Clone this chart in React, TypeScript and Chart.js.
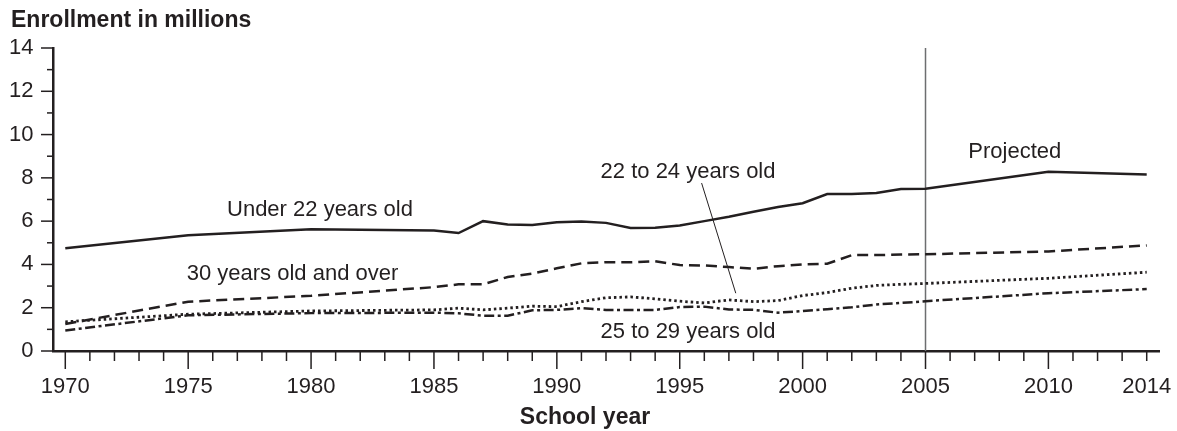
import React, { useEffect, useRef } from "react";
import { Chart, registerables } from "chart.js";

Chart.register(...registerables);

// ---- Data (millions) ----
const years = [
  1970, 1975, 1980, 1985, 1986, 1987, 1988, 1989, 1990, 1991, 1992, 1993, 1994,
  1995, 1996, 1997, 1998, 1999, 2000, 2001, 2002, 2003, 2004, 2005, 2010, 2014,
];
const under22 = [
  4.75, 5.35, 5.62, 5.57, 5.45, 6.0, 5.85, 5.82, 5.95, 5.98, 5.92, 5.68, 5.7,
  5.8, 6.0, 6.2, 6.43, 6.65, 6.83, 7.25, 7.25, 7.3, 7.48, 7.5, 8.28, 8.16,
];
const age22to24 = [
  1.35, 1.7, 1.85, 1.9, 1.98, 1.9, 1.98, 2.07, 2.05, 2.28, 2.46, 2.5, 2.41,
  2.3, 2.22, 2.36, 2.28, 2.33, 2.56, 2.7, 2.9, 3.03, 3.08, 3.12, 3.36, 3.64,
];
const age25to29 = [
  0.95, 1.65, 1.75, 1.77, 1.74, 1.63, 1.63, 1.88, 1.9, 1.98, 1.9, 1.9, 1.9,
  2.03, 2.05, 1.92, 1.9, 1.77, 1.85, 1.93, 2.02, 2.15, 2.22, 2.3, 2.67, 2.86,
];
const over30 = [
  1.25, 2.28, 2.55, 2.95, 3.08, 3.08, 3.42, 3.58, 3.82, 4.05, 4.1, 4.1, 4.15,
  3.97, 3.95, 3.88, 3.8, 3.92, 4.0, 4.03, 4.43, 4.43, 4.46, 4.47, 4.6, 4.88,
];

const xTickLabels = [1970, 1975, 1980, 1985, 1990, 1995, 2000, 2005, 2010, 2014];
const xMajorTicks = [1970, 1975, 1980, 1985, 1990, 1995, 2000, 2005, 2010];
const yTickLabels = [0, 2, 4, 6, 8, 10, 12, 14];
const projectionStart = 2005;

const titleText = "Enrollment in millions";
const xTitleText = "School year";

// annotation labels, anchored in data units (left edge, vertical middle)
const annotations = [
  { text: "Under 22 years old", x: 1976.58, y: 6.53 },
  { text: "30 years old and over", x: 1974.94, y: 3.56 },
  { text: "22 to 24 years old", x: 1991.78, y: 8.29 },
  { text: "25 to 29 years old", x: 1991.78, y: 0.88 },
  { text: "Projected", x: 2006.74, y: 9.21 },
];
// leader line for "22 to 24 years old"
const leader = { x1: 1995.89, y1: 7.76, x2: 1997.28, y2: 2.67 };

const FONT = '"Liberation Sans", Arial, Helvetica, sans-serif';
const INK = "#231f20";

const toPoints = (vals: number[]) => vals.map((v, i) => ({ x: years[i], y: v }));

const decorPlugin = {
  id: "decor",
  beforeDatasetsDraw(chart: any) {
    const { ctx, scales, chartArea } = chart;
    const x = scales.x;
    ctx.save();
    const px = x.getPixelForValue(projectionStart);
    ctx.strokeStyle = "#6d6e70";
    ctx.lineWidth = 1.5;
    ctx.beginPath();
    ctx.moveTo(px, chartArea.top);
    ctx.lineTo(px, chartArea.bottom);
    ctx.stroke();
    ctx.restore();
  },
  afterDraw(chart: any) {
    const { ctx, scales, chartArea } = chart;
    const x = scales.x;
    const y = scales.y;
    ctx.save();
    ctx.strokeStyle = INK;
    ctx.lineWidth = 1.5;
    // x ticks (every year)
    for (let yr = xTickLabels[0]; yr <= xTickLabels[xTickLabels.length - 1]; yr++) {
      const px = x.getPixelForValue(yr);
      const len = xMajorTicks.includes(yr) ? 18 : 10;
      ctx.beginPath();
      ctx.moveTo(px, chartArea.bottom);
      ctx.lineTo(px, chartArea.bottom + len);
      ctx.stroke();
    }
    // y ticks (every unit)
    for (let v = 0; v <= 14; v++) {
      const py = y.getPixelForValue(v);
      const len = yTickLabels.includes(v) ? 12 : 6;
      ctx.beginPath();
      ctx.moveTo(chartArea.left, py);
      ctx.lineTo(chartArea.left - len, py);
      ctx.stroke();
    }
    // leader line
    ctx.lineWidth = 1;
    ctx.beginPath();
    ctx.moveTo(x.getPixelForValue(leader.x1), y.getPixelForValue(leader.y1));
    ctx.lineTo(x.getPixelForValue(leader.x2), y.getPixelForValue(leader.y2));
    ctx.stroke();

    // annotation texts
    ctx.fillStyle = INK;
    ctx.font = `22px ${FONT}`;
    ctx.textAlign = "left";
    ctx.textBaseline = "middle";
    for (const a of annotations) {
      ctx.fillText(a.text, x.getPixelForValue(a.x), y.getPixelForValue(a.y));
    }
    // titles
    ctx.font = `bold 23px ${FONT}`;
    ctx.fillText(titleText, 11, 21);
    ctx.textAlign = "center";
    ctx.fillText(xTitleText, 585, 418);
    ctx.restore();
  },
};

export default function App() {
  const canvasRef = useRef<HTMLCanvasElement | null>(null);

  useEffect(() => {
    if (!canvasRef.current) return;
    const common = {
      borderColor: INK,
      borderWidth: 2.5,
      pointRadius: 0,
      tension: 0,
      fill: false,
      borderCapStyle: "butt" as const,
    };
    const chart = new Chart(canvasRef.current, {
      type: "line",
      data: {
        datasets: [
          { ...common, label: "Under 22 years old", data: toPoints(under22) },
          { ...common, label: "30 years old and over", data: toPoints(over30), borderDash: [11, 6] },
          { ...common, label: "22 to 24 years old", data: toPoints(age22to24), borderWidth: 2.8, borderDash: [2.5, 3] },
          { ...common, label: "25 to 29 years old", data: toPoints(age25to29), borderDash: [10, 3.5, 3, 3.5] },
        ],
      },
      options: {
        responsive: false,
        animation: false,
        devicePixelRatio: 1,
        layout: { padding: { top: 48, right: 18, left: 0, bottom: 0 } },
        plugins: {
          legend: { display: false },
          tooltip: { enabled: false },
          title: { display: false },
        },
        scales: {
          x: {
            type: "linear",
            min: 1969.5,
            max: 2014.5,
            grid: { display: false, drawTicks: false },
            border: { display: true, color: INK, width: 2.5 },
            ticks: {
              autoSkip: false,
              maxRotation: 0,
              minRotation: 0,
              padding: 23,
              color: INK,
              font: { family: FONT, size: 22 },
              callback: (v: any) => String(v),
            },
            afterBuildTicks: (s: any) => {
              s.ticks = xTickLabels.map((v) => ({ value: v }));
            },
            afterFit: (s: any) => {
              s.height = 80;
              s.paddingLeft = 0;
              s.paddingRight = 0;
            },
          },
          y: {
            type: "linear",
            min: 0,
            max: 14,
            grid: { display: false, drawTicks: false },
            border: { display: true, color: INK, width: 2.5 },
            ticks: {
              autoSkip: false,
              padding: 19.5,
              color: INK,
              font: { family: FONT, size: 22 },
              callback: (v: any) => String(v),
            },
            afterBuildTicks: (s: any) => {
              s.ticks = yTickLabels.map((v) => ({ value: v }));
            },
            afterFit: (s: any) => {
              s.width = 53;
              s.paddingTop = 0;
              s.paddingBottom = 0;
            },
          },
        },
      },
      plugins: [decorPlugin],
    } as any);
    return () => chart.destroy();
  }, []);

  return (
    <div style={{ position: "absolute", left: 0, top: 0, width: 1177, height: 431, background: "#fff" }}>
      <canvas ref={canvasRef} width={1177} height={431} style={{ display: "block" }} />
    </div>
  );
}
